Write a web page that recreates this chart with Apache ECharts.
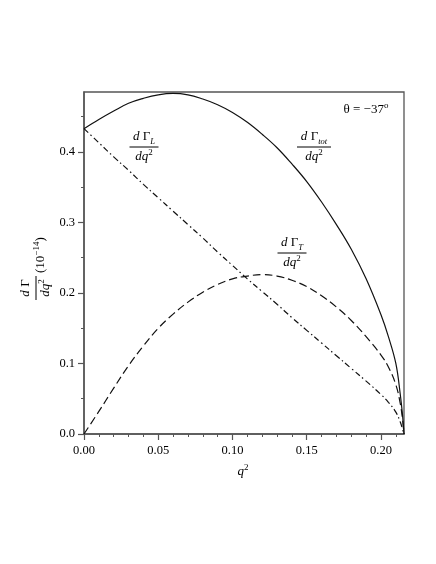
<!DOCTYPE html>
<html>
<head>
<meta charset="utf-8">
<script src="https://cdn.jsdelivr.net/npm/echarts@6/dist/echarts.min.js"></script>
<style>
  html, body { margin: 0; background: #fff; }
  #chart { width: 436px; height: 564px; }
</style>
</head>
<body>
<div id="chart"></div>
<script>
// q^2 grid and the three decay-rate curves (units of 10^-14)
const q2 = [0, 0.01, 0.02, 0.03, 0.04, 0.05, 0.06, 0.07, 0.08, 0.09, 0.10,
  0.11, 0.12, 0.13, 0.14, 0.15, 0.16, 0.17, 0.18, 0.19, 0.20, 0.205, 0.21, 0.213, 0.2145, 0.2155];
const gammaTot = [0.433, 0.446, 0.458, 0.469, 0.476, 0.481, 0.483, 0.481, 0.475, 0.467, 0.456,
  0.442, 0.425, 0.406, 0.383, 0.358, 0.329, 0.297, 0.262, 0.220, 0.169, 0.138, 0.100, 0.056, 0.027, 0];
const gammaL = [0.433, 0.413, 0.393, 0.374, 0.354, 0.335, 0.316, 0.297, 0.278, 0.258, 0.239,
  0.220, 0.202, 0.184, 0.165, 0.147, 0.129, 0.111, 0.093, 0.075, 0.056, 0.045, 0.031, 0.017, 0.007, 0];
const gammaT = [0, 0.032, 0.065, 0.097, 0.125, 0.150, 0.170, 0.187, 0.201, 0.212, 0.220,
  0.224, 0.226, 0.224, 0.218, 0.209, 0.196, 0.180, 0.161, 0.138, 0.112, 0.095, 0.070, 0.043, 0.021, 0];

const xTicks = [0, 0.05, 0.10, 0.15, 0.20];
const xMinorTicks = [0.01, 0.02, 0.03, 0.04, 0.06, 0.07, 0.08, 0.09, 0.11, 0.12, 0.13, 0.14,
  0.16, 0.17, 0.18, 0.19, 0.21];
const yTicks = [0, 0.1, 0.2, 0.3, 0.4];
const yMinorTicks = [0.05, 0.15, 0.25, 0.35, 0.45];

const FONT = '"Liberation Serif", "Times New Roman", serif';
const AXIS_COLOR = '#555';

const pairs = (ys) => q2.map((x, i) => [x, ys[i]]);

const rich = {
  i: { fontStyle: 'italic', fontSize: 13, fontFamily: FONT, lineHeight: 18 },
  n: { fontSize: 13, fontFamily: FONT, lineHeight: 18 },
  sub: { fontStyle: 'italic', fontSize: 8.5, fontFamily: FONT, lineHeight: 10, verticalAlign: 'bottom' },
  sup: { fontSize: 9, fontFamily: FONT, lineHeight: 10, verticalAlign: 'top' }
};

// fraction label: numerator, bar, denominator
function frac(cx, cy, num, den, w) {
  return {
    type: 'group', x: cx, y: cy,
    children: [
      { type: 'text', style: { text: num, x: 0, y: -1, align: 'center', verticalAlign: 'bottom', rich: rich, fill: '#000' } },
      { type: 'line', shape: { x1: -w / 2, y1: 0, x2: w / 2, y2: 0 }, style: { stroke: '#000', lineWidth: 1 } },
      { type: 'text', style: { text: den, x: 0, y: 1, align: 'center', verticalAlign: 'top', rich: rich, fill: '#000' } }
    ]
  };
}

const DEN = '{i|dq}{sup|2}';

const yTitle = frac(0, 0, '{i|d} {n|Γ}', DEN, 24);
yTitle.children.push({
  type: 'text',
  style: { text: '{n|(10}{sup|−14}{n|)}', x: 15, y: 5, align: 'left', verticalAlign: 'middle', rich: rich, fill: '#000' }
});

const chart = echarts.init(document.getElementById('chart'));

const baseX = {
  type: 'value', min: 0, max: 0.2155, gridIndex: 0, position: 'bottom',
  splitLine: { show: false }
};

const lineSeries = (name, ys, type) => ({
  name: name, type: 'line', data: pairs(ys), showSymbol: false,
  smooth: 0.4,
  lineStyle: { color: '#111', width: 1.2, type: type }
});

chart.setOption({
  animation: false,
  backgroundColor: '#fff',
  grid: { left: 84, right: 32, top: 92, bottom: 130, show: true, borderColor: AXIS_COLOR, borderWidth: 1.3 },
  xAxis: [
    Object.assign({}, baseX, {
      interval: 0.05,
      axisLine: { show: true, lineStyle: { color: AXIS_COLOR, width: 1.5 } },
      axisTick: { show: true, length: 6, inside: false, customValues: xTicks, lineStyle: { color: AXIS_COLOR, width: 1.2 } },
      axisLabel: {
        customValues: xTicks, margin: 10, color: '#000', fontFamily: FONT, fontSize: 12.5,
        formatter: (v) => v.toFixed(2)
      }
    }),
    Object.assign({}, baseX, {
      interval: 0.01,
      axisLine: { show: false },
      axisTick: { show: true, length: 3, customValues: xMinorTicks, lineStyle: { color: AXIS_COLOR, width: 1 } },
      axisLabel: { show: false }
    })
  ],
  yAxis: [
    {
      type: 'value', min: 0, max: 0.485, interval: 0.1,
      splitLine: { show: false },
      axisLine: { show: true, lineStyle: { color: AXIS_COLOR, width: 1.5 } },
      axisTick: { show: true, length: 6, customValues: yTicks, lineStyle: { color: AXIS_COLOR, width: 1.2 } },
      axisLabel: {
        customValues: yTicks, margin: 9, color: '#000', fontFamily: FONT, fontSize: 12.5,
        formatter: (v) => v.toFixed(1)
      }
    },
    {
      type: 'value', min: 0, max: 0.485, interval: 0.05, position: 'left',
      splitLine: { show: false },
      axisLine: { show: false },
      axisTick: { show: true, length: 3, customValues: yMinorTicks, lineStyle: { color: AXIS_COLOR, width: 1 } },
      axisLabel: { show: false }
    }
  ],
  series: [
    lineSeries('tot', gammaTot, 'solid'),
    lineSeries('T', gammaT, [8, 4]),
    lineSeries('L', gammaL, [6, 3, 1.5, 3])
  ],
  graphic: [
    {
      type: 'text',
      style: { text: '{n|θ = −37}{sup|o}', x: 366, y: 110, align: 'center', verticalAlign: 'middle', rich: rich, fill: '#000' }
    },
    frac(144, 147, '{i|d} {n|Γ}{sub|L}', DEN, 29),
    frac(314, 147, '{i|d} {n|Γ}{sub|tot}', DEN, 34),
    frac(292, 253, '{i|d} {n|Γ}{sub|T}', DEN, 29),
    Object.assign(yTitle, { x: 36, y: 288, rotation: Math.PI / 2 }),
    {
      type: 'text',
      style: { text: '{i|q}{sup|2}', x: 243, y: 472, align: 'center', verticalAlign: 'middle', rich: rich, fill: '#000' }
    }
  ]
});
</script>
</body>
</html>
